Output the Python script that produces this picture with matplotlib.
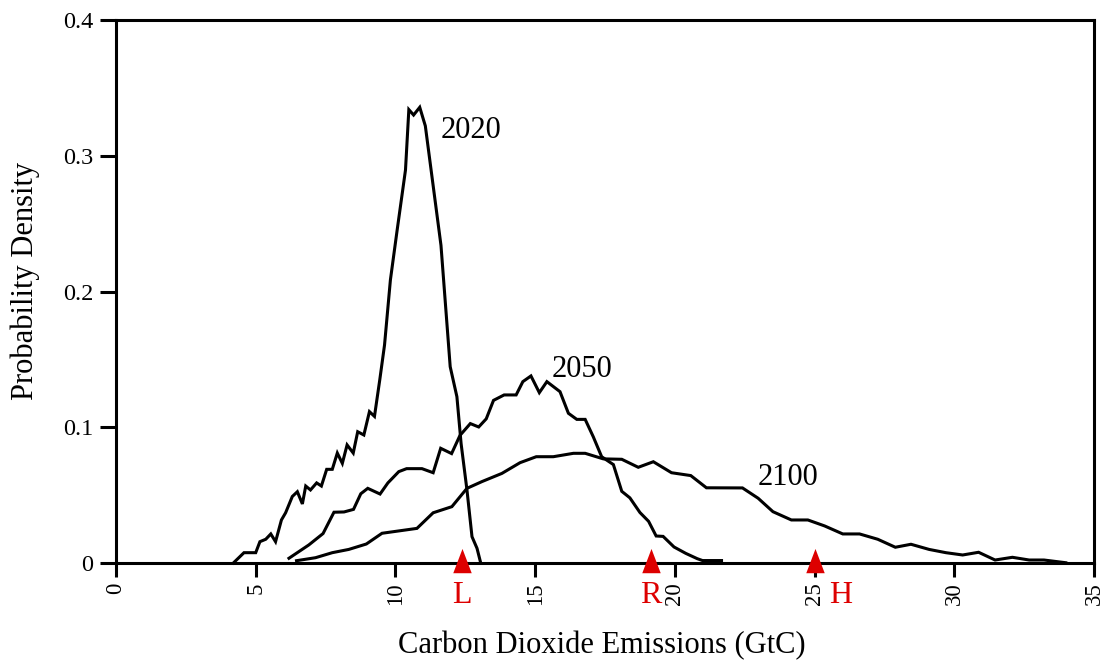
import numpy as np
import matplotlib.pyplot as plt
from matplotlib.markers import MarkerStyle

plt.rcParams['font.family'] = ['Liberation Serif', 'DejaVu Serif']

# 2020 distribution
x_2020 = [4.20, 4.58, 5.00, 5.15, 5.36, 5.54, 5.71, 5.92, 6.07, 6.31, 6.49, 6.67,
          6.79, 6.96, 7.18, 7.35, 7.54, 7.74, 7.92, 8.10, 8.27, 8.49, 8.65, 8.87,
          9.07, 9.25, 9.44, 9.61, 9.82, 10.06, 10.36, 10.48, 10.65, 10.87, 11.07,
          11.37, 11.63, 11.96, 12.20, 12.35, 12.56, 12.74, 12.92, 13.04]
y_2020 = [0.0, 0.0076, 0.0076, 0.0157, 0.0175, 0.0214, 0.0157, 0.0317, 0.037, 0.049,
          0.0525, 0.0435, 0.0567, 0.0538, 0.059, 0.0567, 0.069, 0.069, 0.081, 0.0734,
          0.087, 0.081, 0.0967, 0.0943, 0.1115, 0.108, 0.135, 0.1606, 0.2085, 0.245,
          0.2895, 0.334, 0.330, 0.3357, 0.322, 0.2748, 0.234, 0.1446, 0.1225, 0.088,
          0.0538, 0.0194, 0.0108, 0.001]

# 2050 distribution
x_2050 = [6.19, 6.90, 7.41, 7.80, 8.16, 8.50, 8.76, 9.01, 9.45, 9.73, 10.12, 10.40,
          10.95, 11.35, 11.62, 12.01, 12.31, 12.68, 12.98, 13.25, 13.51, 13.89, 14.32,
          14.56, 14.85, 15.15, 15.42, 15.89, 16.19, 16.49, 16.79, 17.08, 17.38, 17.80,
          18.10, 18.39, 18.75, 19.06, 19.33, 19.58, 19.97, 20.39, 20.80, 20.99, 21.67]
y_2050 = [0.0035, 0.0133, 0.0217, 0.0374, 0.0376, 0.0395, 0.051, 0.055, 0.0508, 0.059,
          0.0673, 0.0695, 0.0695, 0.0665, 0.0845, 0.0806, 0.094, 0.1027, 0.1002, 0.1062,
          0.1198, 0.1238, 0.1238, 0.1336, 0.1378, 0.1255, 0.1336, 0.1262, 0.1103, 0.1058,
          0.1058, 0.093, 0.0783, 0.0725, 0.0528, 0.048, 0.0372, 0.0307, 0.0199, 0.0196,
          0.0118, 0.0071, 0.0032, 0.0018, 0.0018]

# 2100 distribution
x_2100 = [6.46, 7.14, 7.74, 8.33, 8.96, 9.52, 10.18, 10.77, 11.35, 12.02, 12.56, 13.10,
          13.81, 14.46, 15.04, 15.65, 16.37, 16.79, 17.44, 18.10, 18.69, 19.23, 19.88,
          20.57, 21.13, 22.42, 22.98, 23.51, 24.17, 24.76, 25.36, 26.01, 26.61, 27.26,
          27.89, 28.45, 29.10, 29.70, 30.30, 30.87, 31.46, 32.08, 32.68, 33.21, 33.99]
y_2100 = [0.0017, 0.0039, 0.0076, 0.010, 0.014, 0.0219, 0.0238, 0.0255, 0.037, 0.0415,
          0.055, 0.060, 0.066, 0.0739, 0.0783, 0.0783, 0.0808, 0.0808, 0.0767, 0.0764,
          0.0705, 0.0746, 0.0665, 0.0644, 0.0554, 0.0553, 0.0477, 0.0378, 0.0317, 0.0317,
          0.0273, 0.0214, 0.0214, 0.0175, 0.0116, 0.0138, 0.010, 0.0076, 0.0059, 0.0079,
          0.0022, 0.0042, 0.0022, 0.0022, 0.0002]

# curve labels
year_labels = ['2020', '2050', '2100']
year_label_x = [11.6, 15.6, 22.95]
year_label_y = [0.313, 0.137, 0.0575]

# scenario markers (Low, Reference, High)
scen_names = ['L', 'R', 'H']
scen_x = [12.38, 19.15, 25.03]

x_ticks = [0, 5, 10, 15, 20, 25, 30, 35]
y_ticks = [0, 0.1, 0.2, 0.3, 0.4]
y_tick_labels = ['0', '0.1', '0.2', '0.3', '0.4']

red = '#DD0000'

fig = plt.figure(figsize=(11.07, 6.61), dpi=100)
ax = fig.add_axes([116 / 1107, 1 - 563 / 661, (1094 - 116) / 1107, (563 - 20) / 661])

for xs, ys in [(x_2020, y_2020), (x_2050, y_2050), (x_2100, y_2100)]:
    ax.plot(xs, ys, color='black', lw=2.2, solid_joinstyle='miter', clip_on=False)

for txt, tx, ty in zip(year_labels, year_label_x, year_label_y):
    ax.text(tx, ty, txt, fontsize=22, ha='left', va='baseline')

# tall triangle marker sitting on the axis
tri = MarkerStyle([(-0.38, -0.4), (0.38, -0.4), (0.0, 0.6), (-0.38, -0.4)])
ax.plot(scen_x, [0] * len(scen_x), linestyle='none', marker=tri, markersize=21,
        color=red, markeredgewidth=0, clip_on=False, zorder=5)

offsets = [0, 0, 18]
for name, sx, dx in zip(scen_names, scen_x, offsets):
    ax.annotate(name, xy=(sx, 0), xycoords='data', xytext=(dx, -29),
                textcoords='offset points', ha='center', va='baseline',
                fontsize=23, color=red, annotation_clip=False)

ax.set_xlim(0, 35)
ax.set_ylim(0, 0.4)
ax.set_xticks(x_ticks)
ax.set_xticklabels([str(t) for t in x_ticks], rotation=90, fontsize=16.5, va='top')
ax.set_yticks(y_ticks)
ax.set_yticklabels(y_tick_labels, fontsize=17.5)
ax.tick_params(axis='x', direction='out', length=10, width=2.2, pad=4)
ax.tick_params(axis='y', direction='out', length=11.5, width=2.2, pad=5)
for sp in ax.spines.values():
    sp.set_linewidth(2.2)

fig.text(25 / 1107, 1 - 281 / 661, 'Probability Density', rotation=90,
         ha='center', va='center', fontsize=22)
fig.text(602 / 1107, 1 - 653 / 661, 'Carbon Dioxide Emissions (GtC)',
         ha='center', va='baseline', fontsize=22)

fig.savefig('out.png', dpi=100)
plt.close(fig)
